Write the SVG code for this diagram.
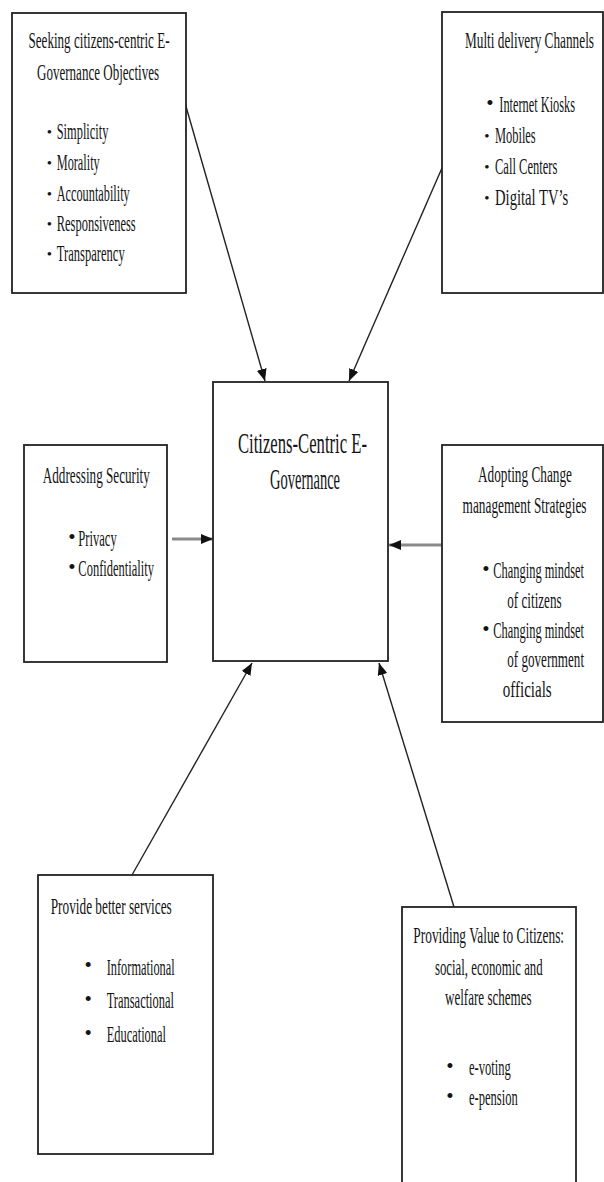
<svg xmlns="http://www.w3.org/2000/svg" width="604" height="1182" viewBox="0 0 604 1182">
<style>
  .box { fill: #ffffff; stroke: #222222; stroke-width: 1.8; }
  text { font-family: "Liberation Serif", "Times New Roman", serif; fill: #141414; }
  .t { font-size: 23px; }
  .big { font-size: 30px; }
  .b { font-size: 15px; }
  .bb { font-size: 21px; }
  .mid { text-anchor: middle; }
  .thin { stroke: #222222; stroke-width: 1.4; fill: none; }
  .grey { stroke: #8a8a8a; stroke-width: 3; fill: none; }
</style>
<defs>
  <marker id="ah" markerUnits="userSpaceOnUse" markerWidth="13" markerHeight="10" refX="12" refY="5" orient="auto">
    <path d="M0,0 L12,5 L0,10 z" fill="#111111"/>
  </marker>
</defs>
<rect width="604" height="1182" fill="#ffffff"/>

<g id="connectors">
  <line class="thin" x1="185" y1="103" x2="265" y2="381" marker-end="url(#ah)"/>
  <line class="thin" x1="442" y1="168" x2="349" y2="381" marker-end="url(#ah)"/>
  <line class="grey" x1="172" y1="539" x2="213" y2="539" marker-end="url(#ah)"/>
  <line class="grey" x1="442" y1="545" x2="389" y2="545" marker-end="url(#ah)"/>
  <line class="thin" x1="132" y1="875" x2="252" y2="663" marker-end="url(#ah)"/>
  <line class="thin" x1="454" y1="907" x2="379" y2="663" marker-end="url(#ah)"/>
</g>

<g id="objectives">
  <rect class="box" x="12" y="13" width="174" height="280"/>
  <text class="t mid" transform="translate(99,48) scale(0.56,1)" textLength="251.8" lengthAdjust="spacingAndGlyphs">Seeking citizens-centric E-</text>
  <text class="t mid" transform="translate(98,80) scale(0.56,1)" textLength="217.9" lengthAdjust="spacingAndGlyphs">Governance Objectives</text>
  <text class="b mid" x="49.5" y="137">•</text>
  <text class="t" transform="translate(56.7,139) scale(0.56,1)" textLength="92.3" lengthAdjust="spacingAndGlyphs">Simplicity</text>
  <text class="b mid" x="49.5" y="168">•</text>
  <text class="t" transform="translate(56.7,170) scale(0.56,1)" textLength="76.8" lengthAdjust="spacingAndGlyphs">Morality</text>
  <text class="b mid" x="49.5" y="199">•</text>
  <text class="t" transform="translate(56.7,201) scale(0.56,1)" textLength="130.4" lengthAdjust="spacingAndGlyphs">Accountability</text>
  <text class="b mid" x="49.5" y="229">•</text>
  <text class="t" transform="translate(56.7,231) scale(0.56,1)" textLength="141.1" lengthAdjust="spacingAndGlyphs">Responsiveness</text>
  <text class="b mid" x="49.5" y="259">•</text>
  <text class="t" transform="translate(56.7,261) scale(0.56,1)" textLength="121.4" lengthAdjust="spacingAndGlyphs">Transparency</text>
</g>

<g id="channels">
  <rect class="box" x="442" y="12" width="161" height="281"/>
  <text class="t mid" transform="translate(529.5,48) scale(0.56,1)" textLength="230.4" lengthAdjust="spacingAndGlyphs">Multi delivery Channels</text>
  <text class="bb mid" x="490" y="110">•</text>
  <text class="t" transform="translate(499.3,112) scale(0.56,1)" textLength="135.2" lengthAdjust="spacingAndGlyphs">Internet Kiosks</text>
  <text class="b mid" x="487" y="141">•</text>
  <text class="t" transform="translate(495,143) scale(0.56,1)" textLength="72.7" lengthAdjust="spacingAndGlyphs">Mobiles</text>
  <text class="b mid" x="487" y="172">•</text>
  <text class="t" transform="translate(495,174) scale(0.56,1)" textLength="111.3" lengthAdjust="spacingAndGlyphs">Call Centers</text>
  <text class="b mid" x="487" y="203">•</text>
  <text class="t" transform="translate(495,205) scale(0.56,1)" textLength="130.9" lengthAdjust="spacingAndGlyphs">Digital TV’s</text>
</g>

<g id="center">
  <rect class="box" x="213" y="382" width="175" height="279"/>
  <text class="big mid" transform="translate(302.5,453) scale(0.56,1)" textLength="230.4" lengthAdjust="spacingAndGlyphs">Citizens-Centric E-</text>
  <text class="big mid" transform="translate(305,489) scale(0.56,1)" textLength="125" lengthAdjust="spacingAndGlyphs">Governance</text>
</g>

<g id="security">
  <rect class="box" x="24" y="445" width="143" height="217"/>
  <text class="t mid" transform="translate(96.3,483) scale(0.56,1)" textLength="191.1" lengthAdjust="spacingAndGlyphs">Addressing Security</text>
  <text class="bb mid" x="72" y="544">•</text>
  <text class="t" transform="translate(78.3,546) scale(0.56,1)" textLength="68.6" lengthAdjust="spacingAndGlyphs">Privacy</text>
  <text class="bb mid" x="72" y="574">•</text>
  <text class="t" transform="translate(78.3,576) scale(0.56,1)" textLength="135.2" lengthAdjust="spacingAndGlyphs">Confidentiality</text>
</g>

<g id="change">
  <rect class="box" x="442" y="445" width="161" height="277"/>
  <text class="t mid" transform="translate(525,482) scale(0.56,1)" textLength="167.9" lengthAdjust="spacingAndGlyphs">Adopting Change</text>
  <text class="t mid" transform="translate(524.5,513) scale(0.56,1)" textLength="221.4" lengthAdjust="spacingAndGlyphs">management Strategies</text>
  <text class="bb mid" x="486" y="576">•</text>
  <text class="t" transform="translate(493.3,578) scale(0.56,1)" textLength="162" lengthAdjust="spacingAndGlyphs">Changing mindset</text>
  <text class="t" transform="translate(507.3,608) scale(0.56,1)" textLength="97" lengthAdjust="spacingAndGlyphs">of citizens</text>
  <text class="bb mid" x="486" y="636">•</text>
  <text class="t" transform="translate(493.3,638) scale(0.56,1)" textLength="162" lengthAdjust="spacingAndGlyphs">Changing mindset</text>
  <text class="t" transform="translate(507.3,667) scale(0.56,1)" textLength="137" lengthAdjust="spacingAndGlyphs">of government</text>
  <text class="t" transform="translate(502.7,697) scale(0.56,1)" textLength="87.5" lengthAdjust="spacingAndGlyphs">officials</text>
</g>

<g id="services">
  <rect class="box" x="38" y="875" width="175" height="279"/>
  <text class="t" transform="translate(50.7,914) scale(0.56,1)" textLength="216.1" lengthAdjust="spacingAndGlyphs">Provide better services</text>
  <text class="bb mid" x="88.3" y="972">•</text>
  <text class="t" transform="translate(106.7,974.5) scale(0.56,1)" textLength="121.4" lengthAdjust="spacingAndGlyphs">Informational</text>
  <text class="bb mid" x="88.3" y="1006">•</text>
  <text class="t" transform="translate(106.7,1008) scale(0.56,1)" textLength="120.2" lengthAdjust="spacingAndGlyphs">Transactional</text>
  <text class="bb mid" x="88.3" y="1040">•</text>
  <text class="t" transform="translate(106.7,1042) scale(0.56,1)" textLength="105.9" lengthAdjust="spacingAndGlyphs">Educational</text>
</g>

<g id="value">
  <rect class="box" x="402" y="907" width="174" height="290"/>
  <text class="t mid" transform="translate(488.7,943) scale(0.56,1)" textLength="269.1" lengthAdjust="spacingAndGlyphs">Providing Value to Citizens:</text>
  <text class="t mid" transform="translate(488.8,975) scale(0.56,1)" textLength="192.3" lengthAdjust="spacingAndGlyphs">social, economic and</text>
  <text class="t mid" transform="translate(488.3,1005) scale(0.56,1)" textLength="154.8" lengthAdjust="spacingAndGlyphs">welfare schemes</text>
  <text class="bb mid" x="450" y="1073">•</text>
  <text class="t" transform="translate(469,1075) scale(0.56,1)" textLength="74.5" lengthAdjust="spacingAndGlyphs">e-voting</text>
  <text class="bb mid" x="450" y="1103">•</text>
  <text class="t" transform="translate(469,1105) scale(0.56,1)" textLength="87" lengthAdjust="spacingAndGlyphs">e-pension</text>
</g>
</svg>
